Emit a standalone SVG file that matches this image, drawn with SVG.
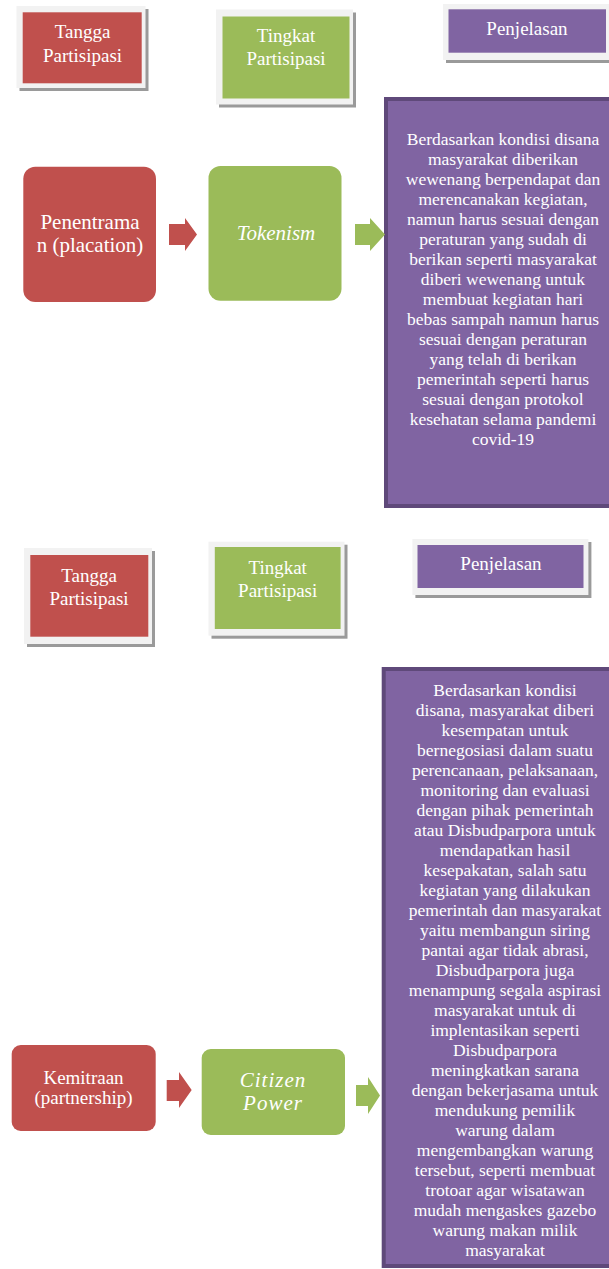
<svg xmlns="http://www.w3.org/2000/svg" width="609" height="1269" viewBox="0 0 609 1269">
<style>
text{font-family:'Liberation Serif','Times New Roman',Tinos,'DejaVu Serif','Noto Serif',serif;fill:#ffffff;text-anchor:middle}
.hdr{font-size:19px}
.node{font-size:21px}
.it{font-style:italic}
.desc{font-size:17.5px}
.shadow{fill:#9a9a9a}
.frame{fill:#f2f2f2}
.red{fill:#c0504d}
.green{fill:#9bbb59}
.purple{fill:#8064a2}
.pbox{fill:#8064a2;stroke:#5f497a;stroke-width:4}
</style>
<rect width="609" height="1269" fill="#ffffff"/>

<g id="hdr1-tangga">
<rect class="shadow" x="19.5" y="9" width="129" height="82"/>
<rect class="frame" x="16.5" y="6" width="129" height="82"/>
<rect class="red" x="22.7" y="12.3" width="119" height="71"/>
<text class="hdr" x="82.5" y="38">Tangga</text>
<text class="hdr" x="82.5" y="62">Partisipasi</text>
</g>
<g id="hdr1-tingkat">
<rect class="shadow" x="219" y="12.5" width="137" height="95"/>
<rect class="frame" x="216" y="9.5" width="137" height="95"/>
<rect class="green" x="222.5" y="16.5" width="127" height="82"/>
<text class="hdr" x="286" y="42">Tingkat</text>
<text class="hdr" x="286" y="65">Partisipasi</text>
</g>
<g id="hdr1-penjelasan">
<rect class="shadow" x="446" y="7" width="166" height="56"/>
<rect class="frame" x="443" y="4" width="166" height="56"/>
<rect class="purple" x="448.5" y="9.3" width="157.5" height="43.4"/>
<text class="hdr" x="527" y="35">Penjelasan</text>
</g>

<g id="node-penentraman">
<rect class="red" x="23.3" y="166.7" width="132.7" height="135.3" rx="12"/>
<text class="node" x="90" y="229">Penentrama</text>
<text class="node" x="90" y="252">n (placation)</text>
</g>
<g id="node-tokenism">
<rect class="green" x="208.5" y="166" width="133" height="134.7" rx="12"/>
<text class="node it" x="276" y="240">Tokenism</text>
</g>
<g id="desc-1">
<rect class="pbox" x="386" y="99" width="230" height="407"/>
<text class="desc" x="503" y="145">Berdasarkan kondisi disana</text>
<text class="desc" x="503" y="165">masyarakat diberikan</text>
<text class="desc" x="503" y="185">wewenang berpendapat dan</text>
<text class="desc" x="503" y="205">merencanakan kegiatan,</text>
<text class="desc" x="503" y="225">namun harus sesuai dengan</text>
<text class="desc" x="503" y="245">peraturan yang sudah di</text>
<text class="desc" x="503" y="265">berikan seperti masyarakat</text>
<text class="desc" x="503" y="285">diberi wewenang untuk</text>
<text class="desc" x="503" y="305">membuat kegiatan hari</text>
<text class="desc" x="503" y="325">bebas sampah namun harus</text>
<text class="desc" x="503" y="345">sesuai dengan peraturan</text>
<text class="desc" x="503" y="365">yang telah di berikan</text>
<text class="desc" x="503" y="385">pemerintah seperti harus</text>
<text class="desc" x="503" y="405">sesuai dengan protokol</text>
<text class="desc" x="503" y="425">kesehatan selama pandemi</text>
<text class="desc" x="503" y="445">covid-19</text>
</g>

<g id="hdr2-tangga">
<rect class="shadow" x="27" y="551" width="128" height="96"/>
<rect class="frame" x="24" y="548" width="128" height="96"/>
<rect class="red" x="30.3" y="555" width="118" height="81.7"/>
<text class="hdr" x="89" y="582">Tangga</text>
<text class="hdr" x="89" y="605">Partisipasi</text>
</g>
<g id="hdr2-tingkat">
<rect class="shadow" x="211.5" y="544.7" width="136" height="94"/>
<rect class="frame" x="208.5" y="541.7" width="136" height="94"/>
<rect class="green" x="214.8" y="547" width="125.8" height="82"/>
<text class="hdr" x="277.7" y="574">Tingkat</text>
<text class="hdr" x="277.7" y="597">Partisipasi</text>
</g>
<g id="hdr2-penjelasan">
<rect class="shadow" x="415.4" y="542" width="176" height="56"/>
<rect class="frame" x="412.4" y="539" width="176" height="56"/>
<rect class="purple" x="417.5" y="545" width="166" height="43"/>
<text class="hdr" x="501" y="570">Penjelasan</text>
</g>

<g id="node-kemitraan">
<rect class="red" x="11.7" y="1045" width="144" height="86" rx="9"/>
<text class="node" x="83.5" y="1084" style="font-size:19px">Kemitraan</text>
<text class="node" x="83.5" y="1104" style="font-size:19px">(partnership)</text>
</g>
<g id="node-citizen">
<rect class="green" x="201.7" y="1049" width="143.3" height="86" rx="9"/>
<text class="node it" x="273" y="1087" style="letter-spacing:1px">Citizen</text>
<text class="node it" x="273" y="1110" style="letter-spacing:1px">Power</text>
</g>
<g id="desc-2">
<rect class="pbox" x="383.7" y="669" width="232" height="597"/>
<text class="desc" x="505" y="696">Berdasarkan kondisi</text>
<text class="desc" x="505" y="716">disana, masyarakat diberi</text>
<text class="desc" x="505" y="736">kesempatan untuk</text>
<text class="desc" x="505" y="756">bernegosiasi dalam suatu</text>
<text class="desc" x="505" y="776">perencanaan, pelaksanaan,</text>
<text class="desc" x="505" y="796">monitoring dan evaluasi</text>
<text class="desc" x="505" y="816">dengan pihak pemerintah</text>
<text class="desc" x="505" y="836">atau Disbudparpora untuk</text>
<text class="desc" x="505" y="856">mendapatkan hasil</text>
<text class="desc" x="505" y="876">kesepakatan, salah satu</text>
<text class="desc" x="505" y="896">kegiatan yang dilakukan</text>
<text class="desc" x="505" y="916">pemerintah dan masyarakat</text>
<text class="desc" x="505" y="936">yaitu membangun siring</text>
<text class="desc" x="505" y="956">pantai agar tidak abrasi,</text>
<text class="desc" x="505" y="976">Disbudparpora juga</text>
<text class="desc" x="505" y="996">menampung segala aspirasi</text>
<text class="desc" x="505" y="1016">masyarakat untuk di</text>
<text class="desc" x="505" y="1036">implentasikan seperti</text>
<text class="desc" x="505" y="1056">Disbudparpora</text>
<text class="desc" x="505" y="1076">meningkatkan sarana</text>
<text class="desc" x="505" y="1096">dengan bekerjasama untuk</text>
<text class="desc" x="505" y="1116">mendukung pemilik</text>
<text class="desc" x="505" y="1136">warung dalam</text>
<text class="desc" x="505" y="1156">mengembangkan warung</text>
<text class="desc" x="505" y="1176">tersebut, seperti membuat</text>
<text class="desc" x="505" y="1196">trotoar agar wisatawan</text>
<text class="desc" x="505" y="1216">mudah mengaskes gazebo</text>
<text class="desc" x="505" y="1236">warung makan milik</text>
<text class="desc" x="505" y="1256">masyarakat</text>
</g>

<g id="connectors">
<polygon class="red" points="169,224 185,224 185,218 197,234.5 185,251 185,245 169,245"/>
<polygon class="green" points="355,224 370,224 370,218 385,234.5 370,251 370,245 355,245"/>
<polygon class="red" points="166.7,1080 179,1080 179,1072 191.7,1090 179,1108 179,1101 166.7,1101"/>
<polygon class="green" points="356,1085 368,1085 368,1077 380,1095.5 368,1114 368,1106 356,1106"/>
</g>
</svg>
